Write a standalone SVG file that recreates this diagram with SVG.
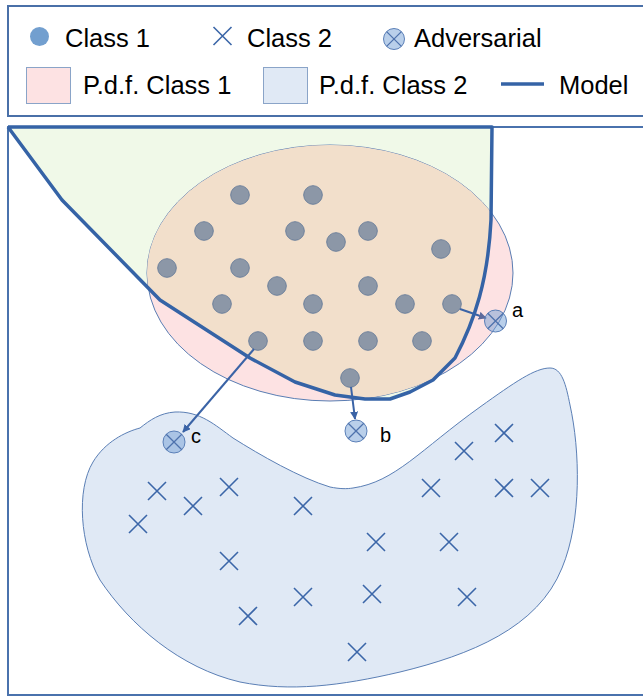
<svg xmlns="http://www.w3.org/2000/svg" width="643" height="697" viewBox="0 0 643 697">
<style>
text{font-family:"Liberation Sans",Arial,sans-serif;fill:#000}
.lg{font-size:25.5px}
.lb{font-size:20px}
.dot{fill:#8c97a7;stroke:#6e819c;stroke-width:1}
.x{stroke:#3b66a8;stroke-width:1.6;fill:none}
.adv{fill:#739fd6;fill-opacity:0.5;stroke:#5b80b8;stroke-width:1}
.advx{stroke:#4e72ad;stroke-width:1.3;fill:none}
.arr{stroke:#3a63a6;stroke-width:2;fill:none}
</style>
<defs>
<marker id="ah" viewBox="0 0 10 10" refX="9" refY="5" markerWidth="4" markerHeight="4" orient="auto" markerUnits="strokeWidth"><path d="M0,0 L10,5 L0,10 z" fill="#3a63a6"/></marker>
<marker id="ah2" viewBox="0 0 10 10" refX="9" refY="5" markerWidth="4" markerHeight="4" orient="auto" markerUnits="strokeWidth"><path d="M0,0 L10,5 L0,10 z" fill="#5d6b9c"/></marker>
<clipPath id="modelClip"><path d="M8,127 L62,200 L160,300 L250,358 L295,382 L335,395 L365,399 L390,399 L410,392 L433,380 L455,358 C475,320 488,280 491,220 L492,127 Z"/></clipPath>
<g id="xm"><path d="M-9,-9 L9,9 M-9,9 L9,-9"/></g>
</defs>

<g id="legend">
<rect x="8" y="6" width="640" height="110" fill="#fff" stroke="#4a70a8" stroke-width="2"/>
<circle cx="39.5" cy="36.5" r="9.5" fill="#729fcf"/>
<text class="lg" x="65" y="47">Class 1</text>
<use href="#xm" class="x" x="222.5" y="36"/>
<text class="lg" x="247" y="47">Class 2</text>
<circle cx="394" cy="39" r="10.5" class="adv"/>
<path d="M386.6,31.6 L401.4,46.4 M386.6,46.4 L401.4,31.6" class="advx"/>
<text class="lg" x="414" y="47">Adversarial</text>
<rect x="26.5" y="67.5" width="44" height="36" fill="#fde2e3" stroke="#8aa4c8" stroke-width="1"/>
<text class="lg" x="83" y="94">P.d.f. Class 1</text>
<rect x="263.5" y="67.5" width="44" height="36" fill="#e0e9f5" stroke="#8aa4c8" stroke-width="1"/>
<text class="lg" x="319" y="94">P.d.f. Class 2</text>
<line x1="501" y1="84" x2="544" y2="84" stroke="#3563a6" stroke-width="3.5"/>
<text class="lg" x="559" y="94">Model</text>
</g>

<g id="frame">
<path d="M643,127 L8,127 L8,695 L643,695" fill="none" stroke="#4a72ad" stroke-width="2"/>
</g>

<g id="model-region">
<path d="M8,127 L62,200 L160,300 L250,358 L295,382 L335,395 L365,399 L390,399 L410,392 L433,380 L455,358 C475,320 488,280 491,220 L492,127 Z" fill="#f0f9e8"/>
</g>

<g id="pdf-class1">
<ellipse cx="330" cy="273" rx="183" ry="128" fill="#fde2e3" stroke="#5a7db3" stroke-width="1"/>
<ellipse cx="330" cy="273" rx="183" ry="128" fill="#f2dfcb" clip-path="url(#modelClip)"/>
</g>

<g id="pdf-class2">
<path d="M353,488 C395,482 420,450 480,407 C515,382 535,368 550,368 C562,368 566,385 570,405 C580,450 582,520 562,568 C538,628 470,655 400,672 C340,686 290,692 240,682 C180,668 130,625 100,580 C80,545 76,490 93,462 C105,442 125,432 140,428 C150,420 160,413 175,412 C200,411 215,425 233,438 C260,455 300,478 330,487 C340,489 347,489 353,488 Z" fill="#e0e9f5" stroke="#5b7fb5" stroke-width="1"/>
</g>

<g id="model">
<path d="M8,127 L62,200 L160,300 L250,358 L295,382 L335,395 L365,399 L390,399 L410,392 L433,380 L455,358 C475,320 488,280 491,220 L492,127 L8,127" fill="none" stroke="#3563a6" stroke-width="3.5" stroke-linejoin="round"/>
</g>

<g id="class1-points">
<circle class="dot" cx="240" cy="195" r="9.3"/>
<circle class="dot" cx="313" cy="195" r="9.3"/>
<circle class="dot" cx="204" cy="231" r="9.3"/>
<circle class="dot" cx="295" cy="231" r="9.3"/>
<circle class="dot" cx="368" cy="231" r="9.3"/>
<circle class="dot" cx="336" cy="242" r="9.3"/>
<circle class="dot" cx="441" cy="249" r="9.3"/>
<circle class="dot" cx="167" cy="268" r="9.3"/>
<circle class="dot" cx="240" cy="268" r="9.3"/>
<circle class="dot" cx="277" cy="286" r="9.3"/>
<circle class="dot" cx="368" cy="286" r="9.3"/>
<circle class="dot" cx="222" cy="304" r="9.3"/>
<circle class="dot" cx="313" cy="304" r="9.3"/>
<circle class="dot" cx="405" cy="304" r="9.3"/>
<circle class="dot" cx="452" cy="304" r="9.3"/>
<circle class="dot" cx="258" cy="341" r="9.3"/>
<circle class="dot" cx="313" cy="341" r="9.3"/>
<circle class="dot" cx="368" cy="341" r="9.3"/>
<circle class="dot" cx="422" cy="341" r="9.3"/>
<circle class="dot" cx="350" cy="378" r="9.3"/>
</g>

<g id="class2-points" class="x">
<use href="#xm" x="504" y="433"/>
<use href="#xm" x="464" y="451"/>
<use href="#xm" x="431" y="488"/>
<use href="#xm" x="504" y="488"/>
<use href="#xm" x="540" y="488"/>
<use href="#xm" x="157" y="491"/>
<use href="#xm" x="193" y="506"/>
<use href="#xm" x="229" y="487"/>
<use href="#xm" x="303" y="506"/>
<use href="#xm" x="138" y="524"/>
<use href="#xm" x="376" y="542"/>
<use href="#xm" x="449" y="542"/>
<use href="#xm" x="229" y="561"/>
<use href="#xm" x="303" y="597"/>
<use href="#xm" x="372" y="594"/>
<use href="#xm" x="467" y="597"/>
<use href="#xm" x="248" y="616"/>
<use href="#xm" x="357" y="652"/>
</g>

<g id="connectors">
<line class="arr" x1="460" y1="309" x2="486" y2="318" stroke="#5d6b9c" marker-end="url(#ah2)"/>
<line class="arr" x1="351" y1="387" x2="355" y2="419" marker-end="url(#ah)"/>
<line class="arr" x1="254" y1="349" x2="183" y2="432" marker-end="url(#ah)"/>
</g>

<g id="adv-a">
<circle class="adv" cx="495.5" cy="321" r="11"/>
<path class="advx" d="M487.7,313.2 L503.3,328.8 M487.7,328.8 L503.3,313.2"/>
<text class="lb" x="512" y="317">a</text>
</g>
<g id="adv-b">
<circle class="adv" cx="356" cy="431" r="11"/>
<path class="advx" d="M348.2,423.2 L363.8,438.8 M348.2,438.8 L363.8,423.2"/>
<text class="lb" x="380" y="442">b</text>
</g>
<g id="adv-c">
<circle class="adv" cx="174" cy="442" r="11"/>
<path class="advx" d="M166.2,434.2 L181.8,449.8 M166.2,449.8 L181.8,434.2"/>
<text class="lb" x="191" y="443">c</text>
</g>
</svg>
